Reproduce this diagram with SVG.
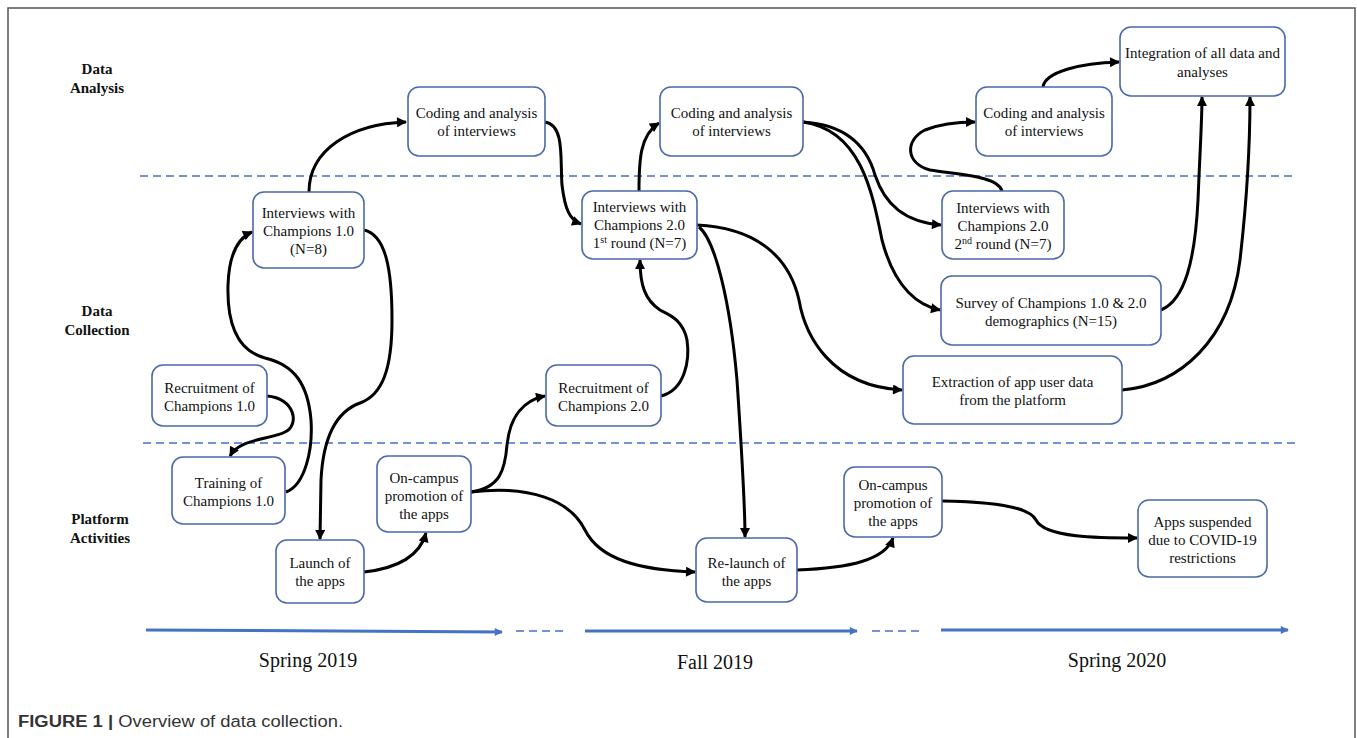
<svg xmlns="http://www.w3.org/2000/svg" width="1357" height="738" viewBox="0 0 1357 738">
<defs>
<style>
.nb{fill:#fff;stroke:#4a6aa8;stroke-width:1.6}
.nt{font-family:"Liberation Serif",serif;font-size:15px;fill:#111;text-anchor:middle}
.rl{font-family:"Liberation Serif",serif;font-size:15px;font-weight:bold;fill:#111;text-anchor:middle}
.tl{font-family:"Liberation Serif",serif;font-size:20px;fill:#111;text-anchor:middle}
.cn{fill:none;stroke:#000;stroke-width:3;marker-end:url(#ah)}
.dl{fill:none;stroke:#4472c4;stroke-width:1.5;stroke-dasharray:8,5}
.ta{fill:none;stroke:#4472c4;stroke-width:3}
</style>
<marker id="ah" viewBox="0 0 10 10" refX="9" refY="5" markerWidth="11" markerHeight="10" markerUnits="userSpaceOnUse" orient="auto"><path d="M0,0 L10,5 L0,10 z" fill="#000"/></marker>
<marker id="bh" viewBox="0 0 10 10" refX="9" refY="5" markerWidth="9" markerHeight="8" markerUnits="userSpaceOnUse" orient="auto"><path d="M0,0 L10,5 L0,10 z" fill="#4472c4"/></marker>
</defs>
<rect x="0" y="0" width="1357" height="738" fill="#fff"/>
<rect x="8" y="8" width="1347" height="760" fill="none" stroke="#555" stroke-width="1.5"/>

<g id="lanes">
<line class="dl" x1="140" y1="176" x2="1296" y2="176"/>
<line class="dl" x1="143" y1="443" x2="1298" y2="443"/>
<text class="rl" x="97" y="74">Data</text>
<text class="rl" x="97" y="93">Analysis</text>
<text class="rl" x="97" y="316">Data</text>
<text class="rl" x="97" y="335">Collection</text>
<text class="rl" x="100" y="524">Platform</text>
<text class="rl" x="100" y="543">Activities</text>
</g>

<g id="connectors">
<path class="cn" d="M309,192 C309,150 350,124 406,122"/>
<path class="cn" d="M545,122 C565,125 560,160 562,185 C565,210 570,220 581,224"/>
<path class="cn" d="M639,191 C639,160 640,135 659,123"/>
<path class="cn" d="M803,122 C850,125 868,150 875,175 C885,205 905,222 941,225"/>
<path class="cn" d="M803,122 C860,130 872,190 882,240 C895,290 920,306 940,310"/>
<path class="cn" d="M1002,191 C998,176 960,175 930,170 C905,163 905,140 925,130 C940,124 955,122 975,122"/>
<path class="cn" d="M1043,87 C1045,72 1080,63 1119,62"/>
<path class="cn" d="M1161,310 C1185,300 1195,260 1198,200 C1200,150 1202,120 1202,97"/>
<path class="cn" d="M1122,390 C1180,385 1230,340 1240,260 C1248,190 1250,130 1250,97"/>
<path class="cn" d="M697,225 C760,228 790,260 799,300 C805,335 830,386 902,390"/>
<path class="cn" d="M699,227 C715,240 730,300 737,380 C741,440 745,500 745,537"/>
<path class="cn" d="M661,396 C685,390 690,360 687,340 C683,320 670,315 660,310 C645,300 640,285 640,260"/>
<path class="cn" d="M471,492 C500,488 505,470 507,445 C510,415 525,400 545,396"/>
<path class="cn" d="M471,492 C530,485 570,500 585,530 C600,560 640,570 695,572"/>
<path class="cn" d="M364,572 C400,568 420,555 426,533"/>
<path class="cn" d="M797,570 C850,568 885,560 893,538"/>
<path class="cn" d="M942,501 C1000,502 1030,508 1036,520 C1045,538 1100,538 1137,538"/>
<path class="cn" d="M267,396 C295,398 300,425 285,432 C270,440 240,438 230,456"/>
<path class="cn" d="M286,492 C305,485 313,450 311,420 C308,385 295,365 265,358 C235,350 227,320 228,285 C229,255 238,238 252,232"/>
<path class="cn" d="M364,230 C386,235 392,270 392,320 C392,370 382,395 360,403 C335,412 323,440 321,480 L320,539"/>
</g>

<g id="n_coding1"><rect class="nb" x="408" y="87" width="137" height="69" rx="11"/><text class="nt" x="476.5" y="118">Coding and analysis</text><text class="nt" x="476.5" y="136">of interviews</text></g>
<g id="n_coding2"><rect class="nb" x="660" y="87" width="143" height="69" rx="11"/><text class="nt" x="731.5" y="118">Coding and analysis</text><text class="nt" x="731.5" y="136">of interviews</text></g>
<g id="n_coding3"><rect class="nb" x="976" y="87" width="136" height="69" rx="11"/><text class="nt" x="1044" y="118">Coding and analysis</text><text class="nt" x="1044" y="136">of interviews</text></g>
<g id="n_integration"><rect class="nb" x="1120" y="27" width="165" height="69" rx="11"/><text class="nt" x="1202.5" y="58">Integration of all data and</text><text class="nt" x="1202.5" y="77">analyses</text></g>
<g id="n_int1"><rect class="nb" x="253" y="192" width="111" height="76" rx="11"/><text class="nt" x="308.5" y="218">Interviews with</text><text class="nt" x="308.5" y="236">Champions 1.0</text><text class="nt" x="308.5" y="254">(N=8)</text></g>
<g id="n_int2a"><rect class="nb" x="582" y="191" width="115" height="68" rx="11"/><text class="nt" x="639.5" y="212">Interviews with</text><text class="nt" x="639.5" y="230">Champions 2.0</text><text class="nt" x="639.5" y="248">1<tspan font-size="10" dy="-5">st</tspan><tspan dy="5"> round (N=7)</tspan></text></g>
<g id="n_int2b"><rect class="nb" x="942" y="191" width="122" height="68" rx="11"/><text class="nt" x="1003" y="213">Interviews with</text><text class="nt" x="1003" y="231">Champions 2.0</text><text class="nt" x="1003" y="249">2<tspan font-size="10" dy="-5">nd</tspan><tspan dy="5"> round (N=7)</tspan></text></g>
<g id="n_survey"><rect class="nb" x="941" y="276" width="220" height="69" rx="11"/><text class="nt" x="1051" y="308">Survey of Champions 1.0 &amp; 2.0</text><text class="nt" x="1051" y="326">demographics (N=15)</text></g>
<g id="n_extraction"><rect class="nb" x="903" y="356" width="219" height="68" rx="11"/><text class="nt" x="1012.5" y="387">Extraction of app user data</text><text class="nt" x="1012.5" y="405">from the platform</text></g>
<g id="n_recruit2"><rect class="nb" x="546" y="365" width="115" height="61" rx="11"/><text class="nt" x="603.5" y="393">Recruitment of</text><text class="nt" x="603.5" y="411">Champions 2.0</text></g>
<g id="n_recruit1"><rect class="nb" x="152" y="365" width="115" height="61" rx="11"/><text class="nt" x="209.5" y="393">Recruitment of</text><text class="nt" x="209.5" y="411">Champions 1.0</text></g>
<g id="n_training"><rect class="nb" x="172" y="457" width="113" height="67" rx="11"/><text class="nt" x="228.5" y="488">Training of</text><text class="nt" x="228.5" y="506">Champions 1.0</text></g>
<g id="n_promo1"><rect class="nb" x="377" y="456" width="94" height="76" rx="11"/><text class="nt" x="424" y="483">On-campus</text><text class="nt" x="424" y="501">promotion of</text><text class="nt" x="424" y="519">the apps</text></g>
<g id="n_launch"><rect class="nb" x="276" y="540" width="88" height="63" rx="11"/><text class="nt" x="320" y="568">Launch of</text><text class="nt" x="320" y="586">the apps</text></g>
<g id="n_relaunch"><rect class="nb" x="696" y="538" width="101" height="64" rx="11"/><text class="nt" x="746.5" y="568">Re-launch of</text><text class="nt" x="746.5" y="586">the apps</text></g>
<g id="n_promo2"><rect class="nb" x="844" y="467" width="98" height="70" rx="11"/><text class="nt" x="893" y="490">On-campus</text><text class="nt" x="893" y="508">promotion of</text><text class="nt" x="893" y="526">the apps</text></g>
<g id="n_suspended"><rect class="nb" x="1138" y="500" width="129" height="77" rx="11"/><text class="nt" x="1202.5" y="527">Apps suspended</text><text class="nt" x="1202.5" y="545">due to COVID-19</text><text class="nt" x="1202.5" y="563">restrictions</text></g>

<g id="timeline">
<line class="ta" x1="146" y1="630" x2="502" y2="632" marker-end="url(#bh)"/>
<line class="dl" x1="516" y1="631" x2="568" y2="631" stroke-dasharray="8,6"/>
<line class="ta" x1="585" y1="631" x2="857" y2="631" marker-end="url(#bh)"/>
<line class="dl" x1="872" y1="631" x2="923" y2="631" stroke-dasharray="8,6"/>
<line class="ta" x1="941" y1="630" x2="1288" y2="630" marker-end="url(#bh)"/>
<text class="tl" x="308" y="667">Spring 2019</text>
<text class="tl" x="715" y="669">Fall 2019</text>
<text class="tl" x="1117" y="667">Spring 2020</text>
</g>

<text x="18" y="727" font-family="'Liberation Sans',Arial,sans-serif" font-size="16" fill="#333" textLength="325" lengthAdjust="spacingAndGlyphs"><tspan font-weight="bold">FIGURE 1 | </tspan>Overview of data collection.</text>
</svg>
